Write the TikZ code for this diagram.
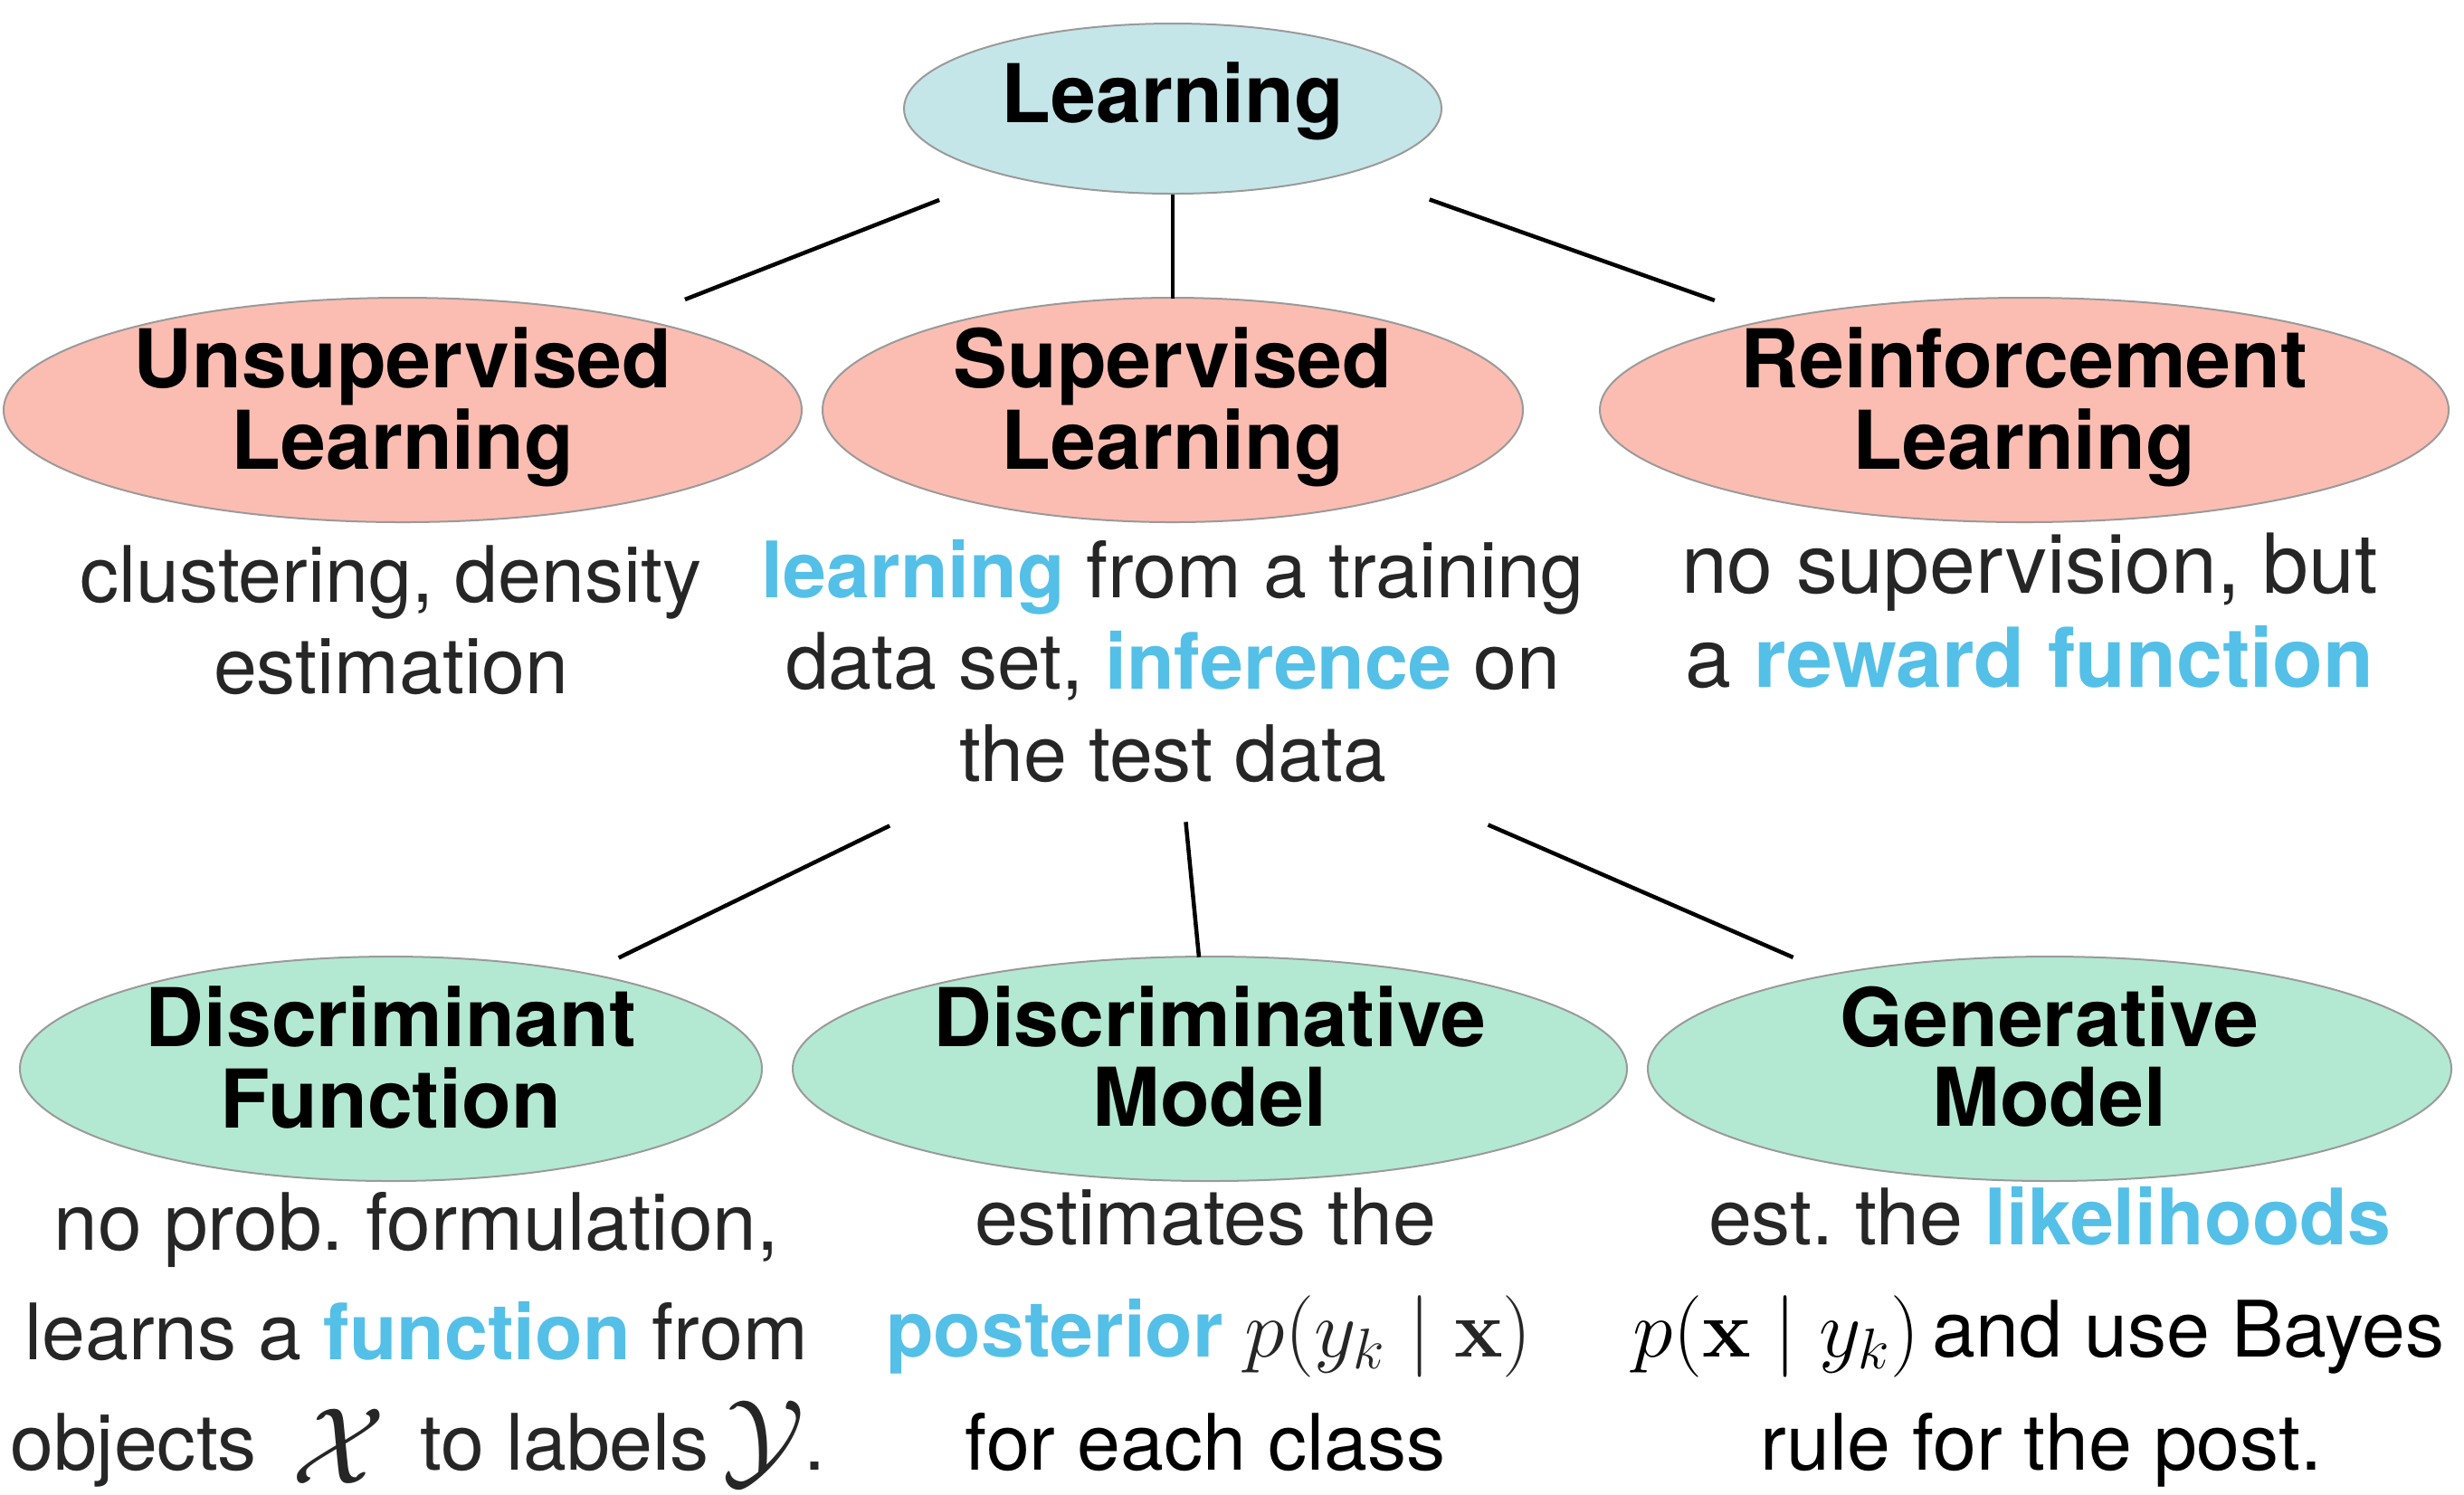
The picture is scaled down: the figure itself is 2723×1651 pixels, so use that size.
\RequirePackage{fix-cm}
\documentclass[tikz,border=0pt]{standalone}
\usepackage{graphicx}
\usepackage[no-math]{fontspec}
\setmainfont{TeX Gyre Heros}
\usetikzlibrary{shapes.geometric}
\definecolor{tealfill}{HTML}{C5E6E8}
\definecolor{salmon}{HTML}{FBBDB2}
\definecolor{mint}{HTML}{B3E9D2}
\definecolor{hlblue}{HTML}{54C0E8}
\definecolor{bodygray}{HTML}{262626}
\definecolor{rim}{HTML}{9A9A9A}
\newcommand{\hl}[1]{\textcolor{hlblue}{\bfseries #1}}
\newcommand{\heads}[2]{\begin{tabular}[t]{@{}c@{}}#1\\[-0.3mm]#2\end{tabular}}
\newcommand{\bigcal}[2]{\raisebox{#2}{\scalebox{1.4}{$\mathcal{#1}$}}}
\newcommand{\mth}[1]{\scalebox{1.05}{$#1$}}
\begin{document}
\begin{tikzpicture}[x=0.1mm,y=-0.1mm,
  blob/.style={ellipse, draw=rim, line width=0.2mm, inner sep=0pt, text=black,
    font=\bfseries\fontsize{25.5pt}{8.8mm}\selectfont, text height=4mm, text depth=9mm},
  body/.style={anchor=base, inner sep=0pt, text=bodygray,
    font=\fontsize{24.5pt}{28pt}\selectfont\frenchspacing, text height=6.5mm, text depth=2mm},
  link/.style={line width=0.45mm, black}]
\useasboundingbox (0,0) rectangle (2723,1651);

% ellipses
\node[blob, fill=tealfill, minimum width=59.4mm, minimum height=18.8mm,
  text height=6.6mm, text depth=3.6mm] (L) at (1296,120) {Learning};
\node[blob, fill=salmon, minimum width=88.2mm, minimum height=24.8mm] (U) at (445,453) {\heads{Unsupervised}{Learning}};
\node[blob, fill=salmon, minimum width=77.4mm, minimum height=24.8mm] (S) at (1296,453) {\heads{Supervised}{Learning}};
\node[blob, fill=salmon, minimum width=93.8mm, minimum height=24.8mm] (R) at (2237,453) {\heads{Reinforcement}{Learning}};
\node[blob, fill=mint, minimum width=82mm, minimum height=24.8mm] (DF) at (432,1181) {\heads{Discriminant}{Function}};
\node[blob, fill=mint, minimum width=92.2mm, minimum height=24.8mm] (DM) at (1337,1181) {\heads{Discriminative}{Model}};
\node[blob, fill=mint, minimum width=88.8mm, minimum height=24.8mm] (GM) at (2265,1181) {\heads{Generative}{Model}};

% body texts
\node[body] (u1) at (432,665) {clustering, density};
\node[body] (u2) at (432,766) {estimation};
\node[body] (s1) at (1296,660) {\hl{learning} from a training};
\node[body] (s2) at (1296,761) {data set, \hl{inference} on};
\node[body] (s3) at (1296,863) {the test data};
\node[body, font=\fontsize{26pt}{28pt}\selectfont] (r1) at (2243,655) {no supervision, but};
\node[body, font=\fontsize{26pt}{28pt}\selectfont] (r2) at (2243,759) {a \hl{reward function}};
\node[body, font=\fontsize{24.9pt}{28pt}\selectfont\frenchspacing] (d1) at (460,1381) {no prob. formulation,};
\node[body] (d2) at (460,1502) {learns a \hl{function} from};
\node[body] (d3) at (462,1624) {objects \,\bigcal{X}{-1.5mm}\, to labels\,\bigcal{Y}{-0.6mm}.};
\node[body] (m1) at (1332,1375) {estimates the};
\node[body] (m2) at (1336,1499) {\hl{posterior} \mth{p(y_k \mid \mathbf{x})}};
\node[body, text=black] (m3) at (1332,1624) {for each class};
\node[body] (g1) at (2265,1375) {est. the \hl{likelihoods}};
\node[body, text=black] (g2) at (2253,1499) {\mth{p(\mathbf{x} \mid y_k)}\,and use Bayes};
\node[body, text=black] (g3) at (2256,1624) {rule for the post.};

% connectors
\draw[link, shorten <=27.7mm, shorten >=33.5mm] (L.center) -- (U.center);
\draw[link, shorten <=9.5mm, shorten >=12.3mm] (L.center) -- (S.center);
\draw[link, shorten <=30.1mm, shorten >=36.3mm] (L.center) -- (R.center);
\draw[link, shorten <=34.8mm, shorten >=28mm] ([yshift=-2.15mm]s2.center) -- (DF.center);
\draw[link, shorten <=14.9mm, shorten >=12.4mm] ([yshift=-2.15mm]s2.center) -- (DM.center);
\draw[link, shorten <=38mm, shorten >=30.9mm] ([yshift=-2.15mm]s2.center) -- (GM.center);
\end{tikzpicture}
\end{document}
